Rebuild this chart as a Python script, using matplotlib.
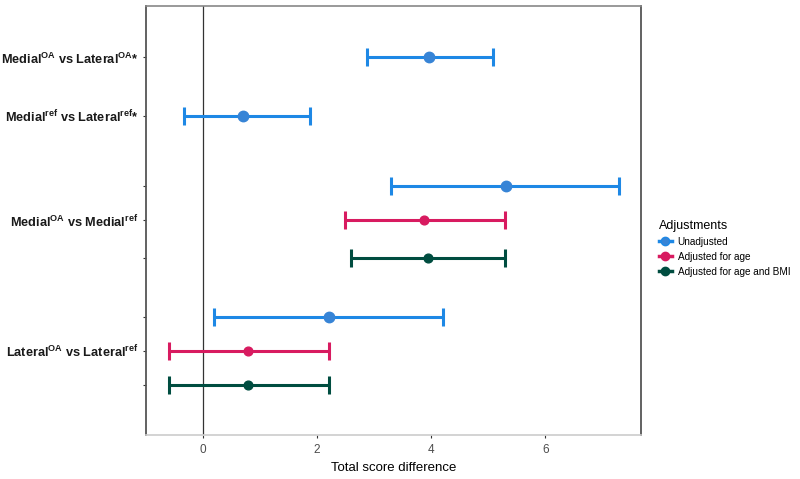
import matplotlib
matplotlib.use("Agg")
import matplotlib.pyplot as plt
from matplotlib.lines import Line2D

plt.rcParams["font.family"] = ["Liberation Sans", "DejaVu Sans"]
plt.rcParams["mathtext.default"] = "regular"

# rows from top to bottom
row_pos = [1.5, 3.2, 5.25, 6.25, 7.35, 9.05, 10.05, 11.05]
row_adj = ["Unadjusted", "Unadjusted", "Unadjusted", "Adjusted for age",
           "Adjusted for age and BMI", "Unadjusted", "Adjusted for age",
           "Adjusted for age and BMI"]
estimate = [3.97, 0.70, 5.31, 3.88, 3.95, 2.20, 0.78, 0.78]
ci_low = [2.88, -0.33, 3.29, 2.49, 2.60, 0.19, -0.60, -0.60]
ci_high = [5.09, 1.88, 7.30, 5.30, 5.30, 4.20, 2.20, 2.20]
row_labels = [r"Medial$^{OA}$ vs Lateral$^{OA}$*",
              r"Medial$^{ref}$ vs Lateral$^{ref}$*",
              "", r"Medial$^{OA}$ vs Medial$^{ref}$", "",
              "", r"Lateral$^{OA}$ vs Lateral$^{ref}$", ""]

adjustments = ["Unadjusted", "Adjusted for age", "Adjusted for age and BMI"]
colors = {"Unadjusted": "#1E88E5",
          "Adjusted for age": "#D81B60",
          "Adjusted for age and BMI": "#004D40"}
point_colors = {"Unadjusted": "#3784D6",
                "Adjusted for age": "#D81B60",
                "Adjusted for age and BMI": "#004D40"}

fig = plt.figure(figsize=(8, 4.79), dpi=100)
ax = fig.add_axes([0.1825, 0.092, 0.6188, 0.8955])

ax.axvline(0, color="#333333", lw=0.9, zorder=1)

for y, adj, est, lo, hi in zip(row_pos, row_adj, estimate, ci_low, ci_high):
    ax.errorbar(est, y, xerr=[[est - lo], [hi - est]], fmt="none",
                ecolor=colors[adj], elinewidth=2.2, capsize=6.2,
                capthick=2.2, zorder=2)
    ms = 7.5 if adj == "Unadjusted" else 6.3
    ax.plot(est, y, "o", color=point_colors[adj], ms=ms, zorder=3)

ax.set_xlim(-1.0, 7.68)
ax.set_ylim(12.5, 0)
ax.set_xticks([0, 2, 4, 6])
ax.set_yticks(row_pos)
ax.set_yticklabels(row_labels, fontweight="bold", fontsize=9.2,
                   color="#1a1a1a")
ax.tick_params(axis="x", length=2.5, color="#333333", labelsize=8.5,
               labelcolor="#4d4d4d", pad=4)
ax.tick_params(axis="y", length=2.5, color="#333333", pad=3)
ax.set_xlabel("Total score difference", fontsize=9.5, labelpad=4)

for side in ["left", "right"]:
    ax.spines[side].set_color("#555555")
    ax.spines[side].set_linewidth(1.3)
ax.spines["top"].set_color("#888888")
ax.spines["top"].set_linewidth(1.2)
ax.spines["bottom"].set_color("#cccccc")
ax.spines["bottom"].set_linewidth(1.2)

handles = [Line2D([], [], color=colors[a], marker="o", ms=6, lw=2.5,
                  markerfacecolor=point_colors[a]) for a in adjustments]
leg = fig.legend(handles, adjustments, title="Adjustments",
                 loc="upper left", bbox_to_anchor=(0.812, 0.56),
                 frameon=False, fontsize=7.2, title_fontsize=9,
                 handlelength=1.3, handletextpad=0.6, labelspacing=0.5)
leg._legend_box.align = "left"

fig.savefig("out.png", dpi=100)
